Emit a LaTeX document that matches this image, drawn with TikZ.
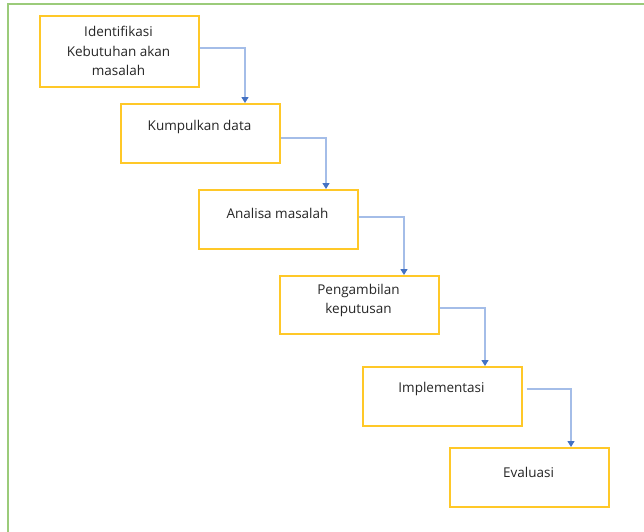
\documentclass[tikz,border=0pt]{standalone}
\usepackage{fontspec}
\setmainfont{Open Sans}[Ligatures={NoCommon}]
\usetikzlibrary{arrows.meta}
\definecolor{frameg}{HTML}{9BCB7A}
\definecolor{boxo}{HTML}{FFC828}
\definecolor{linb}{HTML}{A4BDE8}
\definecolor{headb}{HTML}{4472C4}
\definecolor{txtc}{HTML}{262626}
\tikzset{
  stepbox/.style={draw=boxo, line width=1.6pt, minimum width=159pt, inner sep=0pt, anchor=north west},
  txt/.style={text=txtc, font=\fontsize{13.5}{19.8}\selectfont, align=center, inner sep=0pt},
  conn/.style={draw=linb, line width=1.3pt, -{Triangle[length=6pt,width=7pt,color=headb]}}
}
\begin{document}
\begin{tikzpicture}[x=1pt,y=-1pt]
\useasboundingbox (0,0) rectangle (644,531);
\fill[white] (0,0) rectangle (644,531);
\draw[frameg, line width=2pt] (8,535) -- (8,4) -- (648,4);

\node[stepbox, minimum height=71pt] (b1) at (39,15) {};
\node[stepbox, minimum height=59pt] (b2) at (120,103) {};
\node[stepbox, minimum height=59pt] (b3) at (198,189) {};
\node[stepbox, minimum height=58pt] (b4) at (279,275) {};
\node[stepbox, minimum height=59pt] (b5) at (362,366) {};
\node[stepbox, minimum height=59pt] (b6) at (449,447) {};

\node[txt] (t1) at (118.5,51) {Identifikasi\\Kebutuhan akan\\masalah};
\node[txt] (t2) at (199.5,127) {Kumpulkan data};
\node[txt] (t3) at (277.5,213) {Analisa masalah};
\node[txt] (t4) at (358.5,300.5) {Pengambilan\\keputusan};
\node[txt] (t5) at (441.5,389) {Implementasi};
\node[txt] (t6) at (528.5,472) {Evaluasi};

\draw[conn] (b1.east |- 0,48) -| ([xshift=125pt]b2.north west);
\draw[conn] (b2.east |- 0,138) -| ([xshift=128pt]b3.north west);
\draw[conn] (b3.east |- 0,217) -| ([xshift=125pt]b4.north west);
\draw[conn] (b4.east |- 0,308) -| ([xshift=123pt]b5.north west);
\draw[conn] ([xshift=4pt]b5.east |- 0,389) -| ([xshift=122pt]b6.north west);
\end{tikzpicture}
\end{document}
